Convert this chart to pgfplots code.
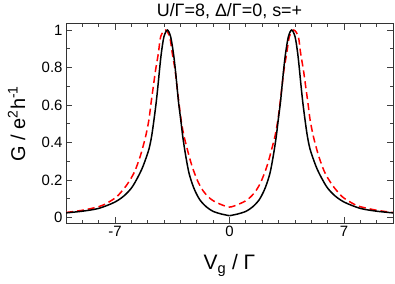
\documentclass[border=0pt]{standalone}
\usepackage{fontspec}
\setmainfont{Liberation Sans}
\usepackage{pgfplots}
\pgfplotsset{compat=1.18}
\begin{document}
\begin{tikzpicture}
\begin{axis}[
  scale only axis, width=327bp, height=199bp,
  xmin=-10, xmax=10, ymin=-0.03, ymax=1.032,
  xtick={-7,0,7}, ytick={0,0.2,0.4,0.6,0.8,1},
  minor xtick={-10,-9,...,10}, minor ytick={0.1,0.3,0.5,0.7,0.9},
  tick align=inside, ticks=both,
  major tick length=6bp, minor tick length=3.5bp,
  every tick/.style={black!75, line width=0.8bp},
  axis line style={black!80, line width=1bp},
  /pgf/number format/assume math mode=true,
  tick label style={font=\fontsize{15}{17}\selectfont},
  every axis title/.style={at={(axis description cs:0.5,1.037)}, anchor=base, font=\fontsize{18}{20}\selectfont},
  title={U/Γ=8, Δ/Γ=0, s=+},
  xlabel={V\textsubscript{g} / Γ},
  xlabel style={font=\fontsize{21}{24}\selectfont, at={(axis description cs:0.5,-0.236)}, anchor=base},
  ylabel={G / e\textsuperscript{2}h\textsuperscript{-1}},
  ylabel style={font=\fontsize{20}{23}\selectfont, at={(axis description cs:-0.125,0.5)}, anchor=base},
]
% red dashed
\addplot[red, line width=1.5bp, dash pattern=on 7bp off 4bp, smooth] coordinates {
(-10,0.026) (-9,0.038) (-8,0.057) (-7.5,0.076) (-6.9,0.11) (-6.35,0.165) (-6.0,0.212) (-5.8,0.245)
(-5.6,0.29) (-5.4,0.343) (-5.13,0.432) (-4.93,0.52) (-4.8,0.609) (-4.66,0.698) (-4.52,0.787) (-4.35,0.876)
(-4.21,0.964) (-3.93,1.0) (-3.66,0.964) (-3.5,0.876) (-3.33,0.787) (-3.21,0.698) (-3.09,0.609) (-2.96,0.52)
(-2.8,0.44) (-2.6,0.37) (-2.4,0.305) (-2.2,0.25) (-1.9,0.185) (-1.6,0.14) (-1.3,0.11) (-1.0,0.089)
(-0.5,0.068) (0,0.055)
(0.5,0.068) (1.0,0.089) (1.3,0.11) (1.6,0.14) (1.9,0.185) (2.2,0.25) (2.4,0.305) (2.6,0.37)
(2.8,0.44) (2.96,0.52) (3.09,0.609) (3.21,0.698) (3.33,0.787) (3.5,0.876) (3.66,0.964) (3.93,1.0)
(4.21,0.964) (4.35,0.876) (4.52,0.787) (4.66,0.698) (4.8,0.609) (4.93,0.52) (5.13,0.432) (5.4,0.343)
(5.6,0.29) (5.8,0.245) (6.0,0.212) (6.35,0.165) (6.9,0.11) (7.5,0.076) (8,0.057) (9,0.038) (10,0.026)
};
% black solid, left half
\addplot[black, line width=1.5bp, smooth] coordinates {
(-10,0.024) (-9,0.033) (-8,0.048) (-7.05,0.08) (-6.45,0.115) (-5.93,0.165) (-5.38,0.254) (-5.0,0.343)
(-4.87,0.385) (-4.75,0.44) (-4.62,0.52) (-4.49,0.609) (-4.38,0.698) (-4.28,0.787) (-4.17,0.876) (-4.01,0.964)
(-3.8,1.0) (-3.6,0.964) (-3.43,0.876) (-3.31,0.787) (-3.21,0.698) (-3.11,0.609) (-2.98,0.52) (-2.86,0.432)
(-2.7,0.34) (-2.5,0.245) (-2.3,0.185) (-2.1,0.14) (-1.8,0.092) (-1.4,0.055) (-1.0,0.032) (-0.5,0.018) (0,0.009)
};
% black solid, right half
\addplot[black, line width=1.5bp, smooth] coordinates {
(0,0.009) (0.5,0.018) (1.0,0.032) (1.4,0.055) (1.8,0.092) (2.1,0.14) (2.3,0.185) (2.5,0.245)
(2.7,0.34) (2.86,0.432) (2.98,0.52) (3.11,0.609) (3.21,0.698) (3.31,0.787) (3.43,0.876) (3.6,0.964)
(3.8,1.0) (4.01,0.964) (4.17,0.876) (4.28,0.787) (4.38,0.698) (4.49,0.609) (4.62,0.52) (4.75,0.44)
(4.87,0.385) (5.0,0.343) (5.38,0.254) (5.93,0.165) (6.45,0.115) (7.05,0.08) (8,0.048) (9,0.033) (10,0.024)
};
\end{axis}
\pgfresetboundingbox
\useasboundingbox (-66bp,-61bp) rectangle (329bp,223bp);
\end{tikzpicture}
\end{document}
